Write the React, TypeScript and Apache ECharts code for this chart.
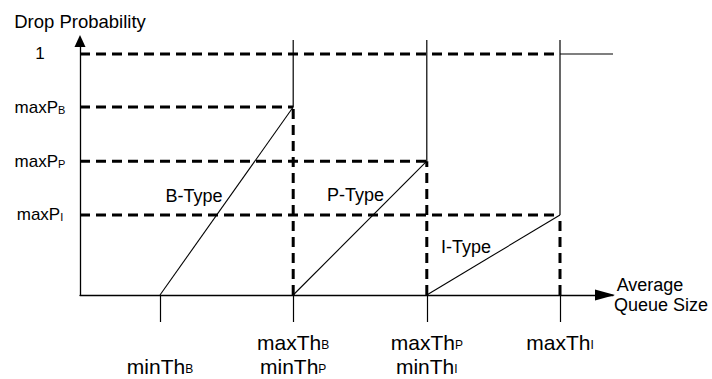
import React, { useEffect, useRef } from 'react';
import * as echarts from 'echarts';

// ---- data ----
const typeNames = ['B-Type', 'P-Type', 'I-Type'];
const minTh = [20, 53.3, 86.7];          // queue size where dropping starts
const maxTh = [53.3, 86.7, 120];         // queue size where dropping reaches maxP
const maxP = [0.78, 0.555, 0.332];       // drop probability at maxTh
const maxProbability = 1;

const queueTicks = [20, 53.3, 86.7, 120];
const queueTickTop = ['', 'maxTh{s|B}', 'maxTh{s|P}', 'maxTh{s|I}'];
const queueTickBottom = ['minTh{s|B}', 'minTh{s|P}', 'minTh{s|I}', ''];

const probTicks = [0.332, 0.555, 0.78, 1];
const probTickLabels = ['maxP{s|I}', 'maxP{s|P}', 'maxP{s|B}', '1'];

// label anchors (data coordinates) for the type names
const typeLabelPos = [
  [28.5, 0.41],
  [68.9, 0.414],
  [96.5, 0.2],
];

const FONT = '"Liberation Sans", Arial, Helvetica, sans-serif';
const X_MAX = 133.25;
const Y_MAX = 1.058;
const LINE_TOP = 1.058;
const RIGHT_END = 133.25;

function wrap(s: string): string {
  const idx = s.indexOf('{');
  if (s === '') return '{m| }';
  if (idx < 0) return `{m|${s}}`;
  return `{m|${s.slice(0, idx)}}${s.slice(idx)}`;
}

function nearestIndex(arr: number[], v: number): number {
  let best = 0;
  for (let i = 1; i < arr.length; i++) {
    if (Math.abs(arr[i] - v) < Math.abs(arr[best] - v)) best = i;
  }
  return best;
}

const xRich = {
  m: { fontSize: 21, lineHeight: 24, color: '#000', fontFamily: FONT },
  s: { fontSize: 12, lineHeight: 16, verticalAlign: 'middle', padding: [6, 0, 0, 0], color: '#000', fontFamily: FONT },
};
const yRich = {
  m: { fontSize: 17, lineHeight: 20, color: '#000', fontFamily: FONT },
  s: { fontSize: 11, lineHeight: 14, verticalAlign: 'middle', padding: [5, 0, 0, 0], color: '#000', fontFamily: FONT },
};

export default function App() {
  const ref = useRef<HTMLDivElement>(null);

  useEffect(() => {
    if (!ref.current) return;
    const chart = echarts.init(ref.current, undefined, { renderer: 'svg' });

    const solid = { color: '#000', width: 1.2 };
    const dashed = { color: '#000', width: 3, type: [10, 6] as number[] };

    const seg = (data: number[][], lineStyle: any) => ({
      type: 'line',
      data,
      symbol: 'none',
      silent: true,
      clip: false,
      lineStyle,
      z: 3,
    });

    const series: any[] = [];
    series.push(seg([[0, maxProbability], [maxTh[2], maxProbability]], dashed));
    series.push(seg([[maxTh[2], maxProbability], [RIGHT_END, maxProbability]], solid));
    for (let i = 0; i < typeNames.length; i++) {
      series.push(seg([[0, maxP[i]], [maxTh[i], maxP[i]]], dashed));
      series.push(seg([[maxTh[i], 0], [maxTh[i], maxP[i]]], dashed));
      series.push(seg([[maxTh[i], maxP[i]], [maxTh[i], LINE_TOP]], solid));
      series.push(seg([[minTh[i], 0], [maxTh[i], maxP[i]]], { color: '#000', width: 1.1 }));
    }
    series.push({
      type: 'scatter',
      silent: true,
      symbolSize: 0,
      itemStyle: { color: '#000' },
      data: typeLabelPos.map((p, i) => ({ value: p, name: typeNames[i] })),
      label: {
        show: true,
        position: 'inside',
        formatter: '{b}',
        fontSize: 18,
        color: '#000',
        opacity: 1,
        textBorderWidth: 0,
        fontFamily: FONT,
      },
      z: 4,
    });

    chart.setOption({
      animation: false,
      backgroundColor: '#fff',
      textStyle: { fontFamily: FONT },
      grid: { left: 80, right: 99, top: 40, bottom: 84, containLabel: false, outerBoundsMode: 'none' },
      xAxis: {
        type: 'value',
        min: 0,
        max: X_MAX,
        name: '{a|Average}\n{b|Queue Size}',
        nameLocation: 'end',
        nameGap: 48,
        nameTextStyle: {
          align: 'center',
          verticalAlign: 'middle',
          rich: {
            a: { fontSize: 18, lineHeight: 20, color: '#000', fontFamily: FONT, padding: [0, 22, 0, 0] },
            b: { fontSize: 18, lineHeight: 20, color: '#000', fontFamily: FONT },
          },
        },
        axisLine: {
          show: true,
          onZero: false,
          symbol: ['none', 'triangle'],
          symbolSize: [11, 20],
          symbolOffset: [0, -8],
          lineStyle: { color: '#000', width: 1.3 },
        },
        axisTick: {
          show: true,
          customValues: queueTicks,
          length: 27,
          lineStyle: { color: '#000', width: 1.2 },
        },
        axisLabel: {
          show: true,
          customValues: queueTicks,
          margin: 35,
          align: 'center',
          formatter: (v: number) => {
            const i = nearestIndex(queueTicks, v);
            return `${wrap(queueTickTop[i])}\n${wrap(queueTickBottom[i])}`;
          },
          rich: xRich,
        },
        splitLine: { show: false },
      },
      yAxis: {
        type: 'value',
        min: 0,
        max: Y_MAX,
        name: 'Drop Probability',
        nameLocation: 'end',
        nameGap: 9,
        nameTextStyle: { fontSize: 18.5, color: '#000', fontFamily: FONT },
        axisLine: {
          show: true,
          onZero: false,
          symbol: ['none', 'triangle'],
          symbolSize: [11, 12],
          symbolOffset: [0, -1],
          lineStyle: { color: '#000', width: 1.3 },
        },
        axisTick: { show: false },
        axisLabel: {
          show: true,
          customValues: probTicks,
          margin: 40,
          align: 'center',
          formatter: (v: number) => wrap(probTickLabels[nearestIndex(probTicks, v)]),
          rich: yRich,
        },
        splitLine: { show: false },
      },
      series,
    });

    return () => chart.dispose();
  }, []);

  return (
    <div
      ref={ref}
      style={{ position: 'absolute', left: 0, top: 0, width: 712, height: 379 }}
    />
  );
}
